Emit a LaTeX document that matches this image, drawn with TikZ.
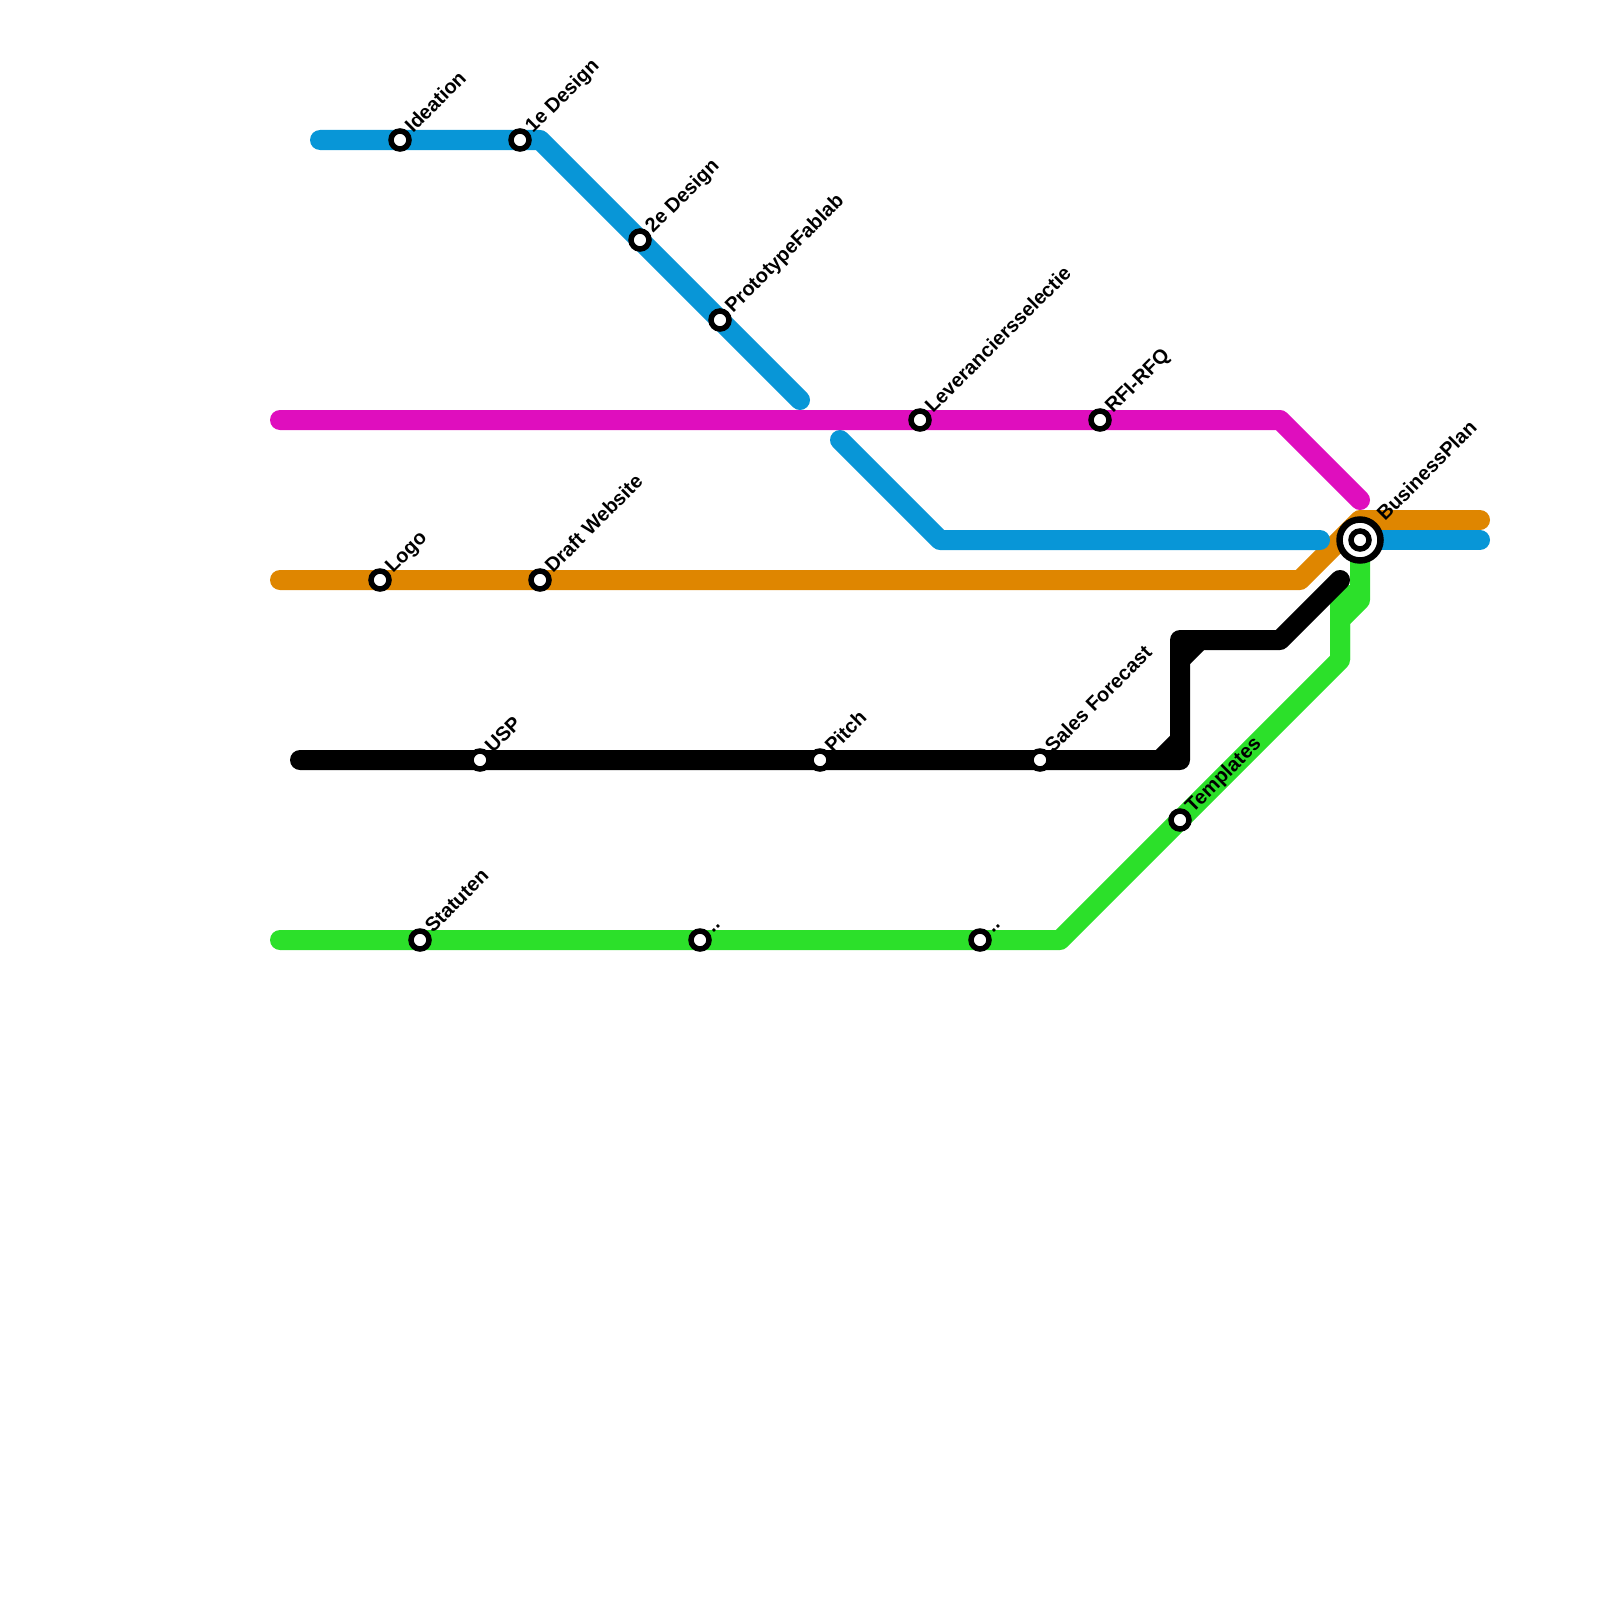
\documentclass[tikz,border=0pt]{standalone}
\usepackage{fontspec}
\setmainfont{Liberation Sans}
\definecolor{lblue}{HTML}{0896D7}
\definecolor{lmag}{HTML}{DF0EBE}
\definecolor{lorange}{HTML}{DF8600}
\definecolor{lgreen}{HTML}{2CE02A}
\tikzset{
  metro/.style={line width=20pt,line cap=round,line join=round},
  stop/.style={circle,draw=black,fill=white,line width=5.5pt,minimum size=18pt,inner sep=0pt},
  stoplabel/.style={rotate=45,anchor=base west,inner sep=0pt,font=\bfseries\fontsize{20}{22}\selectfont,text=black},
}
\begin{document}
\begin{tikzpicture}[x=1pt,y=-1pt]
\useasboundingbox (0,0) rectangle (1600,1600);
% free ends and bends
\coordinate (b0) at (320,140); \coordinate (b1) at (540,140); \coordinate (b2) at (800,400);
\coordinate (b3) at (840,440); \coordinate (b4) at (940,540); \coordinate (b5) at (1320,540);
\coordinate (b6) at (1480,540);
\coordinate (m0) at (280,420); \coordinate (m1) at (1280,420); \coordinate (m2) at (1360,500);
\coordinate (o0) at (280,580); \coordinate (o1) at (1300,580); \coordinate (o2) at (1360,520); \coordinate (o3) at (1480,520);
\coordinate (k0) at (300,760); \coordinate (k1) at (1180,760); \coordinate (k2) at (1180,640); \coordinate (k3) at (1280,640); \coordinate (k4) at (1340,580);
\coordinate (k5) at (1160,760); \coordinate (k6) at (1180,740); \coordinate (k7) at (1180,660); \coordinate (k8) at (1200,640);
\coordinate (g0) at (280,940); \coordinate (g1) at (1060,940); \coordinate (g2) at (1340,660); \coordinate (g3) at (1340,585); \coordinate (g4) at (1340,620); \coordinate (g5) at (1360,600);
% stations
\coordinate (sBP) at (1360,540);
% lines
\draw[metro,lorange] (o0)--(o1)--(o2)--(o3);
\draw[metro,lblue] (b0)--(b1)--(b2);
\draw[metro,lblue] (b3)--(b4)--(b5);
\draw[metro,lblue] (sBP)--(b6);
\draw[metro,lgreen,line cap=butt] (g0)--(g1)--(g2)--(g3);
\fill[lgreen] (g0) circle (10pt);
\draw[metro,lgreen,line cap=butt] (g2)--(g4)--(g5)--(sBP);
\draw[metro,black] (k0)--(k1)--(k2)--(k3)--(k4);
\draw[metro,black,line cap=butt] (k5)--(k6);
\draw[metro,black,line cap=butt] (k7)--(k8);
\draw[metro,lmag] (m0)--(m1)--(m2);
% stops
\node[stop] (s1) at (400,140) {};
\node[stop] (s2) at (520,140) {};
\node[stop] (s3) at (640,240) {};
\node[stop] (s4) at (720,320) {};
\node[stop] (s5) at (920,420) {};
\node[stop] (s6) at (1100,420) {};
\node[stop] (s7) at (380,580) {};
\node[stop] (s8) at (540,580) {};
\node[stop] (s9) at (480,760) {};
\node[stop] (s10) at (820,760) {};
\node[stop] (s11) at (1040,760) {};
\node[stop] (s12) at (420,940) {};
\node[stop] (s13) at (700,940) {};
\node[stop] (s14) at (980,940) {};
\node[stop] (s15) at (1180,820) {};
\node[circle,draw=black,fill=white,line width=6.5pt,minimum size=41pt,inner sep=0pt] (s16o) at (sBP) {};
\node[stop] (s16) at (sBP) {};
% labels
\node[stoplabel] (l1) at ([shift={(13,-6)}]s1.center) {Ideation};
\node[stoplabel] (l2) at ([shift={(13,-6)}]s2.center) {1e Design};
\node[stoplabel] (l3) at ([shift={(13,-6)}]s3.center) {2e Design};
\node[stoplabel] (l4) at ([shift={(13,-6)}]s4.center) {PrototypeFablab};
\node[stoplabel] (l5) at ([shift={(13,-6)}]s5.center) {Leveranciersselectie};
\node[stoplabel] (l6) at ([shift={(13,-6)}]s6.center) {RFI-RFQ};
\node[stoplabel] (l7) at ([shift={(13,-6)}]s7.center) {Logo};
\node[stoplabel] (l8) at ([shift={(13,-6)}]s8.center) {Draft Website};
\node[stoplabel] (l9) at ([shift={(13,-6)}]s9.center) {USP};
\node[stoplabel] (l10) at ([shift={(13,-6)}]s10.center) {Pitch};
\node[stoplabel] (l11) at ([shift={(13,-6)}]s11.center) {Sales Forecast};
\node[stoplabel] (l12) at ([shift={(13,-6)}]s12.center) {Statuten};
\node[stoplabel] (l13) at ([shift={(13,-6)}]s13.center) {..};
\node[stoplabel] (l14) at ([shift={(13,-6)}]s14.center) {..};
\node[stoplabel] (l15) at ([shift={(13,-6)}]s15.center) {Templates};
\node[stoplabel] (l16) at ([shift={(25,-18)}]s16.center) {BusinessPlan};
\end{tikzpicture}
\end{document}
